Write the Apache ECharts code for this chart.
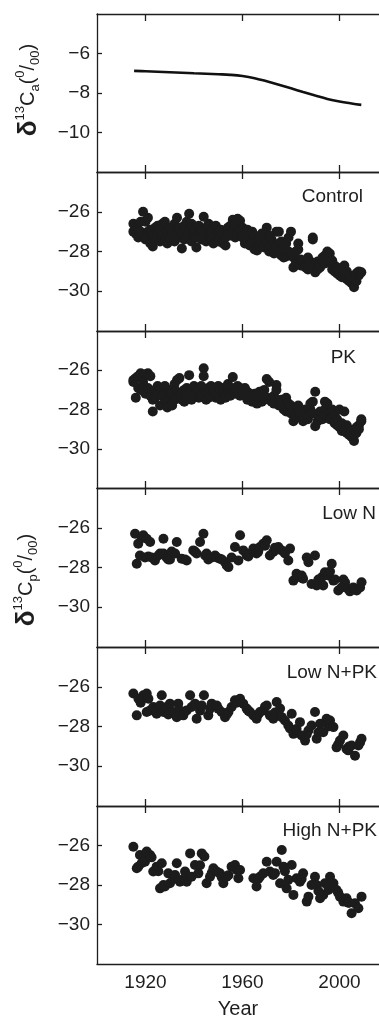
<!DOCTYPE html>
<html><head><meta charset="utf-8">
<script src="https://cdn.jsdelivr.net/npm/echarts@6/dist/echarts.min.js"></script>
<style>html,body{margin:0;padding:0;background:#fff}#c{width:379px;height:1019px}</style>
</head><body><div id="c"></div>
<script>
// ---------- data ----------
const xTicks = [1920, 1960, 2000];
const atmTicks = [-10, -8, -6];
const plantTicks = [-30, -28, -26];
const panelNames = ['Control', 'PK', 'Low N', 'Low N+PK', 'High N+PK'];

const atmYears = [1915.3, 1920, 1930, 1940, 1950, 1955, 1960, 1965, 1970, 1975, 1980, 1985, 1990, 1995, 2000, 2005, 2009];
const atmVals  = [-6.88, -6.9, -6.95, -7.0, -7.05, -7.08, -7.14, -7.25, -7.41, -7.58, -7.76, -7.95, -8.13, -8.3, -8.43, -8.53, -8.6];

const control = [[1915,-26.6],[1915,-27.0],[1916,-27.1],[1916,-26.8],[1917,-27.3],[1917,-26.9],[1918,-27.0],[1918,-26.5],[1919,-26.0],[1919,-27.2],[1920,-26.5],[1920,-27.4],[1921,-26.3],[1921,-27.0],[1922,-26.9],[1922,-27.6],[1923,-27.75],[1923,-27.2],[1924,-26.8],[1924,-27.4],[1925,-27.1],[1925,-26.7],[1926,-27.5],[1926,-26.9],[1927,-27.2],[1927,-26.6],[1928,-26.5],[1928,-27.4],[1929,-27.0],[1929,-27.6],[1930,-26.8],[1930,-27.3],[1931,-27.1],[1931,-26.9],[1932,-26.6],[1932,-27.5],[1933,-26.3],[1933,-27.0],[1934,-27.3],[1934,-26.8],[1935,-27.85],[1935,-27.1],[1936,-26.7],[1936,-27.4],[1937,-27.2],[1937,-26.5],[1938,-26.1],[1938,-27.0],[1939,-26.6],[1939,-27.5],[1940,-27.2],[1940,-26.9],[1941,-27.8],[1941,-27.3],[1942,-26.7],[1942,-27.1],[1943,-27.4],[1943,-26.9],[1944,-26.25],[1944,-27.2],[1945,-26.8],[1945,-27.5],[1946,-27.1],[1946,-26.6],[1947,-27.4],[1947,-27.0],[1948,-26.8],[1948,-27.6],[1949,-26.7],[1949,-27.2],[1950,-27.0],[1950,-27.5],[1951,-27.3],[1951,-26.9],[1952,-27.6],[1952,-27.1],[1953,-27.7],[1953,-27.3],[1954,-27.0],[1954,-26.8],[1955,-27.2],[1955,-26.7],[1956,-26.4],[1956,-27.0],[1957,-26.6],[1957,-27.3],[1958,-26.35],[1958,-27.1],[1959,-26.45],[1959,-26.9],[1960,-26.8],[1960,-27.3],[1961,-27.1],[1961,-27.6],[1962,-26.9],[1962,-27.4],[1963,-27.3],[1963,-27.7],[1964,-27.5],[1964,-27.0],[1965,-27.9],[1965,-27.2],[1966,-27.95],[1966,-27.5],[1967,-27.4],[1967,-27.7],[1968,-27.1],[1968,-27.6],[1969,-27.3],[1969,-27.8],[1970,-26.8],[1970,-27.5],[1971,-28.0],[1971,-27.2],[1972,-27.4],[1972,-27.7],[1973,-27.6],[1973,-28.1],[1974,-27.0],[1974,-27.8],[1975,-27.0],[1975,-28.0],[1976,-27.5],[1976,-28.2],[1977,-27.8],[1977,-28.3],[1978,-28.25],[1978,-27.6],[1979,-28.0],[1979,-27.3],[1980,-27.0],[1980,-28.1],[1981,-28.8],[1981,-28.3],[1982,-28.6],[1982,-28.0],[1983,-27.6],[1983,-27.9],[1984,-28.7],[1984,-28.4],[1985,-28.5],[1985,-28.7],[1986,-28.7],[1986,-28.8],[1987,-28.3],[1987,-28.9],[1988,-28.8],[1988,-28.5],[1989,-27.4],[1989,-27.3],[1990,-29.05],[1990,-28.6],[1991,-28.9],[1991,-28.5],[1992,-28.6],[1992,-28.8],[1993,-28.5],[1993,-28.3],[1994,-28.2],[1994,-28.6],[1995,-28.0],[1995,-28.3],[1996,-28.1],[1996,-28.5],[1997,-28.45],[1997,-28.9],[1998,-28.7],[1998,-29.0],[1999,-28.8],[1999,-29.1],[2000,-29.0],[2000,-29.2],[2001,-28.9],[2001,-29.3],[2002,-28.7],[2002,-29.1],[2003,-29.4],[2003,-29.0],[2004,-29.5],[2004,-29.2],[2005,-29.6],[2005,-29.3],[2006,-29.8],[2006,-29.4],[2007,-29.5],[2007,-29.1],[2008,-29.2],[2008,-29.0],[2009,-29.05]];

const pk = [[1915,-26.5],[1915,-26.6],[1916,-27.4],[1916,-26.4],[1917,-26.9],[1917,-26.3],[1918,-26.15],[1918,-27.0],[1919,-27.0],[1919,-26.6],[1920,-26.2],[1920,-27.2],[1921,-26.15],[1921,-26.9],[1922,-26.3],[1922,-27.3],[1923,-28.1],[1923,-27.5],[1924,-27.0],[1924,-27.4],[1925,-27.2],[1925,-26.8],[1926,-27.8],[1926,-27.0],[1927,-26.9],[1927,-27.3],[1928,-27.5],[1928,-26.8],[1929,-27.1],[1929,-27.9],[1930,-27.0],[1930,-27.4],[1931,-27.8],[1931,-27.2],[1932,-26.7],[1932,-27.5],[1933,-26.5],[1933,-27.1],[1934,-26.4],[1934,-27.3],[1935,-27.2],[1935,-27.5],[1936,-27.0],[1936,-27.6],[1937,-26.9],[1937,-27.4],[1938,-26.25],[1938,-27.2],[1939,-27.0],[1939,-27.5],[1940,-26.8],[1940,-27.3],[1941,-27.1],[1941,-26.9],[1942,-27.4],[1942,-27.0],[1943,-26.8],[1943,-27.3],[1944,-25.9],[1944,-26.3],[1945,-27.2],[1945,-27.5],[1946,-26.9],[1946,-27.4],[1947,-27.3],[1947,-26.8],[1948,-27.1],[1948,-26.9],[1949,-27.0],[1949,-27.4],[1950,-27.3],[1950,-26.8],[1951,-27.0],[1951,-27.5],[1952,-26.9],[1952,-27.2],[1953,-27.2],[1953,-27.4],[1954,-27.0],[1954,-26.7],[1955,-27.3],[1955,-26.9],[1956,-26.35],[1956,-27.1],[1957,-26.9],[1957,-27.2],[1958,-27.1],[1958,-26.8],[1959,-26.9],[1959,-27.3],[1960,-27.0],[1960,-27.2],[1961,-27.3],[1961,-26.9],[1962,-27.1],[1962,-27.5],[1963,-27.4],[1963,-27.2],[1964,-27.6],[1964,-27.3],[1965,-27.5],[1965,-27.2],[1966,-27.7],[1966,-27.3],[1967,-27.4],[1967,-27.1],[1968,-27.6],[1968,-27.3],[1969,-27.0],[1969,-27.5],[1970,-26.45],[1970,-27.4],[1971,-26.6],[1971,-27.5],[1972,-27.4],[1972,-27.6],[1973,-27.3],[1973,-27.7],[1974,-26.75],[1974,-27.0],[1975,-27.6],[1975,-27.8],[1976,-27.8],[1976,-27.5],[1977,-27.9],[1977,-28.0],[1978,-27.4],[1978,-28.1],[1979,-28.0],[1979,-27.7],[1980,-27.8],[1980,-28.2],[1981,-28.6],[1981,-28.0],[1982,-28.2],[1982,-28.3],[1983,-27.8],[1983,-28.4],[1984,-28.3],[1984,-28.1],[1985,-28.6],[1985,-28.2],[1986,-28.4],[1986,-28.0],[1987,-28.5],[1987,-28.3],[1988,-28.0],[1988,-27.7],[1989,-27.6],[1989,-28.2],[1990,-27.1],[1990,-28.85],[1991,-28.6],[1991,-28.3],[1992,-28.4],[1992,-28.1],[1993,-28.2],[1993,-28.5],[1994,-27.6],[1994,-28.0],[1995,-27.7],[1995,-28.3],[1996,-28.2],[1996,-28.5],[1997,-28.0],[1997,-28.4],[1998,-28.7],[1998,-28.3],[1999,-28.8],[1999,-28.5],[2000,-28.0],[2000,-28.9],[2001,-28.7],[2001,-29.1],[2002,-28.1],[2002,-29.0],[2003,-28.8],[2003,-29.2],[2004,-29.0],[2004,-29.3],[2005,-29.4],[2005,-29.1],[2006,-29.6],[2006,-29.3],[2007,-29.2],[2007,-28.9],[2008,-28.8],[2008,-29.0],[2009,-28.6],[2009,-28.5]];

const lowN = [[1915.7,-26.3],[1916.4,-27.81],[1917,-26.8],[1917.7,-27.4],[1918.4,-26.5],[1919.1,-26.38],[1919.8,-27.5],[1920.5,-26.55],[1921.9,-26.72],[1921.2,-27.45],[1922.5,-27.5],[1923.9,-27.65],[1925.3,-27.4],[1926,-27.3],[1927.4,-26.55],[1927.4,-27.3],[1928.7,-27.5],[1929.4,-27.6],[1930.1,-27.6],[1930.8,-27.2],[1932.9,-26.72],[1932.2,-27.3],[1934.9,-27.56],[1936.3,-27.6],[1937,-27.65],[1939.7,-27.14],[1940.4,-27.2],[1941.1,-27.3],[1942.5,-26.72],[1943.9,-26.3],[1944.6,-27.4],[1945.2,-27.3],[1945.9,-27.6],[1947.3,-27.5],[1948.7,-27.4],[1949.4,-27.5],[1950.7,-27.56],[1951.5,-27.6],[1952.8,-27.73],[1953.5,-27.9],[1954.2,-27.98],[1955.5,-27.5],[1956.9,-26.97],[1958.3,-27.65],[1959,-26.38],[1960.3,-27.14],[1961.7,-27.4],[1962.4,-27.45],[1963.1,-27.3],[1964.5,-27.05],[1965.8,-27.3],[1966.5,-27.2],[1967.2,-26.97],[1968.6,-26.8],[1969.3,-26.9],[1970,-26.63],[1971.3,-27.4],[1972.7,-27.22],[1973.4,-27.0],[1974.1,-27.1],[1974.8,-26.97],[1976.2,-27.14],[1977.5,-27.3],[1978.9,-27.65],[1979.6,-27.05],[1981,-28.66],[1982.3,-28.32],[1983.7,-28.49],[1984.4,-28.4],[1985,-28.57],[1986.5,-27.5],[1987.2,-27.73],[1988.5,-28.83],[1989.9,-27.4],[1990.6,-28.91],[1991.3,-28.6],[1992.7,-28.49],[1993.3,-28.9],[1994,-28.24],[1995.4,-28.4],[1996.1,-28.2],[1996.8,-27.81],[1997.5,-28.66],[1998.2,-28.6],[1999.5,-29.16],[2000.9,-29.0],[2001.6,-28.6],[2002.3,-28.74],[2003.6,-29.08],[2004.3,-29.2],[2005.7,-29.0],[2006.4,-29.1],[2007.1,-29.16],[2008.5,-29.0],[2009.1,-28.74]];

const lowNPK = [[1915,-26.34],[1916.4,-27.44],[1917.1,-26.6],[1918,-26.8],[1919.1,-26.43],[1920.5,-26.34],[1921.2,-26.6],[1921.9,-27.19],[1920.5,-27.27],[1923.2,-27.02],[1924.6,-27.36],[1925.3,-27.1],[1926,-26.94],[1926.7,-26.43],[1927.4,-27.27],[1928.7,-27.02],[1929.4,-27.4],[1930.1,-26.85],[1931.5,-27.27],[1932.9,-27.53],[1933.5,-26.85],[1934.2,-27.2],[1935.6,-27.44],[1937,-27.19],[1938.4,-26.43],[1939,-27.02],[1940.4,-26.85],[1941.1,-27.61],[1942.5,-27.2],[1943.2,-26.94],[1944.1,-26.43],[1945.9,-27.44],[1946.6,-27.1],[1947.3,-26.85],[1949.4,-26.94],[1950,-27.1],[1951.4,-27.27],[1952.8,-27.53],[1953.5,-27.4],[1954.2,-27.27],[1955.5,-27.02],[1956.9,-26.68],[1957.6,-26.8],[1959,-26.6],[1960.3,-26.85],[1961.7,-27.1],[1962.4,-27.2],[1963.1,-27.27],[1964.5,-27.44],[1965.8,-27.61],[1966.5,-27.4],[1967.2,-27.27],[1968.6,-27.19],[1969.3,-27.0],[1970,-26.94],[1971.3,-27.44],[1972.7,-27.61],[1973.4,-27.3],[1974.1,-26.77],[1975.5,-27.1],[1976.2,-27.53],[1977.5,-27.7],[1978.9,-27.95],[1979.6,-28.1],[1980.3,-27.36],[1981,-28.37],[1982.3,-28.12],[1983.7,-27.78],[1984.4,-28.45],[1985.8,-28.71],[1986.5,-28.4],[1987.2,-28.2],[1988.5,-27.95],[1989.9,-27.27],[1990.6,-28.62],[1991.3,-28.3],[1992,-27.86],[1993.3,-28.29],[1994.7,-27.61],[1995.4,-28.0],[1996.1,-27.7],[1997.5,-28.03],[1998.8,-29.05],[1999.5,-28.9],[2000.2,-28.71],[2001.6,-28.45],[2002.9,-29.13],[2003.6,-29.2],[2004,-29.0],[2005,-28.96],[2006.4,-29.47],[2007.8,-28.96],[2008.5,-28.8],[2009.1,-28.62]];

const highNPK = [[1915,-26.06],[1916.4,-27.15],[1917,-27.07],[1917.7,-26.48],[1918.4,-26.9],[1919.1,-26.65],[1919.8,-26.82],[1920.5,-26.31],[1921.9,-26.48],[1922.5,-26.6],[1923.2,-27.32],[1924.6,-27.07],[1925.3,-27.3],[1926.7,-26.9],[1926,-28.17],[1927.4,-28.0],[1928,-28.08],[1929.4,-27.41],[1930.1,-27.91],[1931.5,-27.7],[1932.2,-27.49],[1932.9,-26.9],[1934.2,-27.83],[1935.6,-27.7],[1936.3,-27.32],[1937,-27.83],[1938.4,-26.4],[1939,-27.58],[1940.4,-26.99],[1941.8,-27.41],[1942.5,-27.0],[1943.2,-26.4],[1944.3,-26.56],[1945.2,-27.91],[1946.6,-27.58],[1947.3,-27.4],[1948,-27.15],[1949.4,-27.32],[1950.7,-27.41],[1951.4,-27.6],[1952.1,-27.91],[1953.5,-27.58],[1954.2,-27.5],[1955.5,-27.07],[1956.9,-26.99],[1957.6,-27.24],[1959,-27.24],[1958.3,-27.66],[1964.5,-27.66],[1965.8,-28.08],[1966.5,-27.7],[1967.2,-27.58],[1968.6,-27.41],[1970,-26.82],[1971.3,-27.32],[1972.7,-27.49],[1973.4,-27.4],[1974.1,-26.82],[1975.5,-27.91],[1976.2,-26.23],[1976.9,-27.07],[1977.5,-27.3],[1978.2,-28.17],[1978.9,-27.74],[1980.3,-26.99],[1981,-28.5],[1982.3,-27.66],[1983.7,-27.83],[1984.4,-27.7],[1985,-27.41],[1986.5,-28.84],[1987.2,-28.59],[1988.5,-28.0],[1989.9,-27.58],[1990.6,-28.0],[1991.3,-28.3],[1992,-28.67],[1993.3,-28.5],[1994,-27.91],[1995.4,-28.25],[1996.1,-27.58],[1997.5,-27.91],[1998.8,-28.25],[1999.5,-28.4],[2000.2,-28.59],[2001.6,-28.84],[2002.9,-28.67],[2003.6,-28.9],[2004,-28.9],[2005,-29.43],[2006.4,-28.93],[2007.8,-29.18],[2009.1,-28.59]];

// ---------- layout ----------
const FONT = '"Liberation Sans", Arial, Helvetica, sans-serif';
const INK = '#1e1e1e';
const tops = [14, 172, 331, 488, 647, 806];
const heights = [158, 159, 157, 159, 159, 158];
const labelPos = [[363, 197], [356, 358], [376, 514], [377, 673], [377, 831]];
const scatterData = [control, pk, lowN, lowNPK, highNPK];
const minus = v => String(v).replace('-', '\u2212');

const grids = [], xAxes = [], yAxes = [], series = [];
const axisLine = { show: true, onZero: false, lineStyle: { color: INK, width: 1.3 } };
for (let i = 0; i < 6; i++) {
  grids.push({ left: 97, right: 0, top: tops[i], height: heights[i], outerBoundsMode: 'none', containLabel: false });
  const last = i === 5;
  xAxes.push({
    gridIndex: i, type: 'value', min: 1900, max: 2016.3, position: 'bottom',
    axisLine,
    axisTick: { show: !last, inside: true, length: 7, customValues: xTicks, lineStyle: { color: INK, width: 1.3 } },
    axisLabel: { show: last, customValues: xTicks, formatter: v => String(v), margin: 9, fontSize: 19, fontFamily: FONT, color: INK },
    splitLine: { show: false },
    name: last ? 'Year' : '', nameLocation: 'middle', nameGap: 35,
    nameTextStyle: { fontSize: 20, fontFamily: FONT, color: INK }
  });
  xAxes.push({
    gridIndex: i, type: 'value', min: 1900, max: 2016.3, position: 'top',
    axisLine,
    axisTick: { show: true, inside: true, length: 7, customValues: xTicks, lineStyle: { color: INK, width: 1.3 } },
    axisLabel: { show: false }, splitLine: { show: false }
  });
  const ticks = i === 0 ? atmTicks : plantTicks;
  yAxes.push({
    gridIndex: i, type: 'value', min: i === 0 ? -12 : -32, max: i === 0 ? -4 : -24,
    axisLine,
    axisTick: { show: true, inside: true, length: 5, customValues: ticks, lineStyle: { color: INK, width: 1.3 } },
    axisLabel: { customValues: ticks, formatter: minus, margin: 7, fontSize: 19, fontFamily: FONT, color: INK },
    splitLine: { show: false }
  });
}
series.push({
  type: 'line', xAxisIndex: 0, yAxisIndex: 0, smooth: 0.4, symbol: 'none',
  lineStyle: { color: '#111', width: 2.6 },
  data: atmYears.map((y, k) => [y, atmVals[k]])
});
scatterData.forEach((d, k) => {
  series.push({
    type: 'scatter', xAxisIndex: 2 * (k + 1), yAxisIndex: k + 1,
    symbolSize: 10, itemStyle: { color: '#1c1c1c', opacity: 1 }, data: d
  });
});

const graphic = panelNames.map((n, k) => ({
  type: 'text', x: labelPos[k][0], y: labelPos[k][1],
  style: { text: n, fontSize: 19, fontFamily: FONT, fill: INK, align: 'right', verticalAlign: 'middle' }
}));
const rich = {
  d: { fontSize: 26, fontWeight: 'bold', fontFamily: FONT, fill: INK, lineHeight: 28, verticalAlign: 'bottom' },
  m: { fontSize: 20, fontFamily: FONT, fill: INK, lineHeight: 28, verticalAlign: 'middle' },
  sup: { fontSize: 13, fontFamily: FONT, fill: INK, lineHeight: 14, verticalAlign: 'top' },
  sub: { fontSize: 13, fontFamily: FONT, fill: INK, lineHeight: 12, verticalAlign: 'bottom' }
};
function yTitle(sub, x, y) {
  return {
    type: 'text', x, y, rotation: Math.PI / 2,
    style: {
      text: '{d|\u03b4}{sup|13}{m|C}{sub|' + sub + '}{m|(}{sup|0}{m|/}{sub|00}{m|)}',
      rich, align: 'center', verticalAlign: 'middle'
    }
  };
}
graphic.push(yTitle('a', 28, 90));
graphic.push(yTitle('p', 26, 580));

const chart = echarts.init(document.getElementById('c'), null, { renderer: 'canvas' });
chart.setOption({
  animation: false, backgroundColor: '#fff',
  grid: grids, xAxis: xAxes, yAxis: yAxes, series, graphic
});
</script></body></html>
